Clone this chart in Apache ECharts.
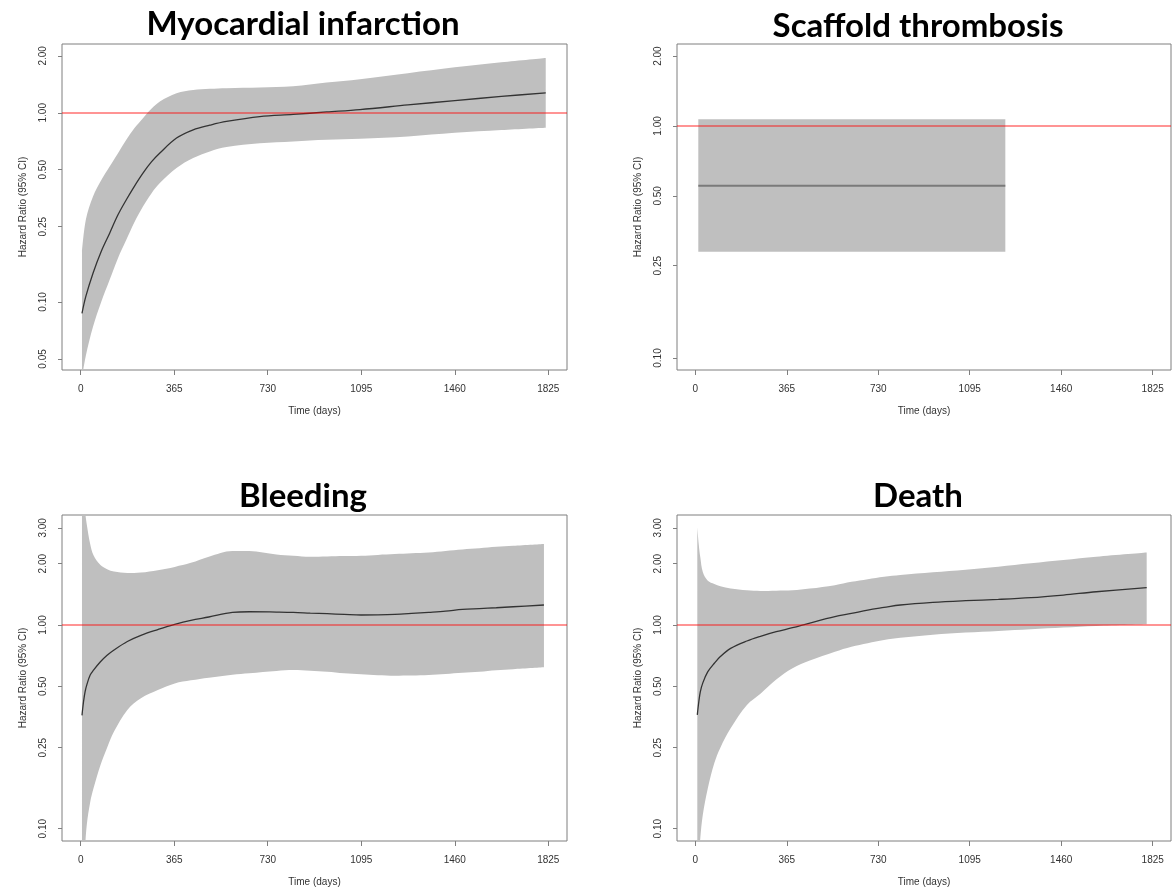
<!DOCTYPE html>
<html>
<head>
<meta charset="utf-8">
<script src="https://cdn.jsdelivr.net/npm/echarts@6/dist/echarts.min.js"></script>
<style>
  html, body { margin: 0; padding: 0; background: #fff; }
  #chart { width: 1173px; height: 892px; }
</style>
</head>
<body>
<div id="chart"></div>
<script>
// tick labels
const xTicks = [0, 365, 730, 1095, 1460, 1825];
const yTicksMI = [0.05, 0.1, 0.25, 0.5, 1, 2];
const yTicksST = [0.1, 0.25, 0.5, 1, 2];
const yTicksBD = [0.1, 0.25, 0.5, 1, 2, 3];

// Myocardial infarction
const miDays  = [5, 20, 48, 80, 113, 145, 178, 210, 243, 276, 309, 374, 439, 504, 569, 699, 829, 960, 1090, 1277, 1460, 1642, 1815];
const miEst   = [0.087, 0.107, 0.142, 0.185, 0.231, 0.288, 0.347, 0.41, 0.48, 0.55, 0.613, 0.735, 0.813, 0.86, 0.90, 0.955, 0.98, 1.01, 1.04, 1.10, 1.16, 1.22, 1.275];
const miLower = [0.040, 0.052, 0.074, 0.100, 0.131, 0.170, 0.213, 0.265, 0.320, 0.375, 0.425, 0.510, 0.576, 0.625, 0.659, 0.691, 0.706, 0.720, 0.729, 0.750, 0.784, 0.810, 0.833];
const miUpper = [0.185, 0.272, 0.361, 0.440, 0.520, 0.610, 0.720, 0.830, 0.937, 1.050, 1.148, 1.270, 1.320, 1.340, 1.350, 1.360, 1.380, 1.446, 1.506, 1.620, 1.740, 1.850, 1.950];

// Scaffold thrombosis
const stDays  = [12, 1237];
const stEst   = [0.552, 0.552];
const stLower = [0.287, 0.287];
const stUpper = [1.07, 1.07];

// Bleeding
const blDays  = [5, 11, 17, 24, 37, 50, 77, 103, 130, 182, 235, 301, 367, 430, 500, 592, 658, 764, 830, 896, 962, 1028, 1094, 1160, 1226, 1292, 1358, 1424, 1490, 1556, 1622, 1688, 1808];
const blEst   = [0.36, 0.42, 0.47, 0.51, 0.568, 0.60, 0.66, 0.71, 0.754, 0.83, 0.89, 0.95, 1.008, 1.055, 1.095, 1.154, 1.162, 1.158, 1.154, 1.145, 1.137, 1.128, 1.12, 1.122, 1.128, 1.14, 1.154, 1.17, 1.194, 1.205, 1.216, 1.23, 1.254];
const blUpper = [6.0, 4.2, 3.6, 3.1, 2.5, 2.2, 1.97, 1.88, 1.83, 1.80, 1.81, 1.86, 1.93, 2.02, 2.165, 2.31, 2.31, 2.22, 2.19, 2.165, 2.17, 2.18, 2.19, 2.21, 2.23, 2.25, 2.27, 2.31, 2.35, 2.38, 2.42, 2.45, 2.50];
const blLower = [0.03, 0.055, 0.08, 0.105, 0.135, 0.158, 0.205, 0.25, 0.30, 0.383, 0.437, 0.48, 0.517, 0.535, 0.551, 0.57, 0.58, 0.595, 0.601, 0.597, 0.59, 0.58, 0.573, 0.567, 0.564, 0.565, 0.568, 0.575, 0.583, 0.59, 0.60, 0.607, 0.62];

// Death
const dtDays  = [8, 14, 20, 30, 50, 76, 100, 141, 206, 260, 323, 388, 457, 557, 623, 688, 753, 818, 948, 1079, 1209, 1339, 1469, 1600, 1801];
const dtEst   = [0.362, 0.42, 0.47, 0.52, 0.59, 0.649, 0.70, 0.768, 0.835, 0.88, 0.927, 0.97, 1.023, 1.099, 1.14, 1.185, 1.22, 1.254, 1.292, 1.317, 1.336, 1.362, 1.404, 1.457, 1.525];
const dtUpper = [3.02, 2.47, 2.15, 1.82, 1.65, 1.59, 1.55, 1.51, 1.48, 1.47, 1.475, 1.48, 1.51, 1.57, 1.63, 1.68, 1.727, 1.76, 1.815, 1.87, 1.935, 2.01, 2.085, 2.165, 2.27];
const dtLower = [0.05, 0.07, 0.09, 0.117, 0.158, 0.21, 0.25, 0.311, 0.405, 0.46, 0.54, 0.613, 0.67, 0.74, 0.783, 0.815, 0.844, 0.865, 0.895, 0.918, 0.936, 0.954, 0.972, 0.99, 1.008];

const titles = ["Myocardial infarction", "Scaffold thrombosis", "Bleeding", "Death"];

// hazard ratio is plotted on a log10 scale
const lg = (v) => Math.log10(v);

const panels = [
  { days: miDays, est: miEst, lo: miLower, hi: miUpper, yMin: 0.0437, yMax: 2.31, ticks: yTicksMI, color: "#333", width: 1.3 },
  { days: stDays, est: stEst, lo: stLower, hi: stUpper, yMin: 0.0888, yMax: 2.255, ticks: yTicksST, color: "#7a7a7a", width: 2 },
  { days: blDays, est: blEst, lo: blLower, hi: blUpper, yMin: 0.087, yMax: 3.47, ticks: yTicksBD, color: "#333", width: 1.3 },
  { days: dtDays, est: dtEst, lo: dtLower, hi: dtUpper, yMin: 0.087, yMax: 3.47, ticks: yTicksBD, color: "#333", width: 1.3 },
];

const grids = [
  { left: 62, top: 44, width: 505, height: 326 },
  { left: 677, top: 44, width: 494, height: 326 },
  { left: 62, top: 515, width: 505, height: 326 },
  { left: 677, top: 515, width: 494, height: 326 },
];
const titlePos = [[303, 8], [918, 10], [303, 480], [918, 480]];

const axisFont = "'Liberation Sans', Arial, sans-serif";
const boxColor = "#7f7f7f";

const xAxis = [], yAxis = [], series = [];
panels.forEach((p, i) => {
  xAxis.push({
    gridIndex: i,
    type: "value",
    min: -73,
    max: 1898,
    name: "Time (days)",
    nameLocation: "middle",
    nameGap: 36,
    nameTextStyle: { fontFamily: axisFont, fontSize: 10, color: "#333" },
    axisLine: { show: false, onZero: false },
    axisTick: { show: true, length: 5, customValues: xTicks, lineStyle: { color: boxColor } },
    axisLabel: { customValues: xTicks, margin: 14, fontFamily: axisFont, fontSize: 10, color: "#333", formatter: (v) => String(v) },
    splitLine: { show: false },
  });
  yAxis.push({
    gridIndex: i,
    type: "value",
    min: lg(p.yMin),
    max: lg(p.yMax),
    name: "Hazard Ratio (95% CI)",
    nameLocation: "middle",
    nameGap: 34,
    nameTextStyle: { fontFamily: axisFont, fontSize: 10, color: "#333" },
    axisLine: { show: false, onZero: false },
    axisTick: { show: true, length: 4, customValues: p.ticks.map(lg), lineStyle: { color: boxColor } },
    axisLabel: {
      customValues: p.ticks.map(lg),
      rotate: 90,
      margin: 14,
      fontFamily: axisFont,
      fontSize: 10,
      color: "#333",
      formatter: (v) => Math.pow(10, v).toFixed(2),
    },
    splitLine: { show: false },
  });

  // data rows are [log HR, day]; putting the value first makes the stack run on y
  const common = {
    xAxisIndex: i, yAxisIndex: i, type: "line", symbol: "none", smooth: 0.35, silent: true,
    encode: { x: 1, y: 0 },
  };
  // lower bound (invisible base of the stacked band)
  series.push(Object.assign({}, common, {
    stack: "ci" + i,
    stackStrategy: "all",
    lineStyle: { width: 0, opacity: 0 },
    data: p.days.map((d, k) => [lg(p.lo[k]), d]),
  }));
  // CI band
  series.push(Object.assign({}, common, {
    stack: "ci" + i,
    stackStrategy: "all",
    lineStyle: { width: 0, opacity: 0 },
    areaStyle: { color: "#bfbfbf", opacity: 1 },
    data: p.days.map((d, k) => [lg(p.hi[k]) - lg(p.lo[k]), d]),
  }));
  // point estimate
  series.push(Object.assign({}, common, {
    z: 3,
    lineStyle: { color: p.color, width: p.width },
    data: p.days.map((d, k) => [lg(p.est[k]), d]),
    markLine: {
      silent: true,
      symbol: "none",
      label: { show: false },
      lineStyle: { color: "rgba(255,0,0,0.42)", width: 2, type: "solid" },
      data: [{ yAxis: 0 }],
    },
  }));
});

const option = {
  animation: false,
  backgroundColor: "#fff",
  title: titles.map((t, i) => ({
    text: t,
    left: titlePos[i][0],
    top: titlePos[i][1],
    textAlign: "center",
    padding: 0,
    textStyle: { fontFamily: "Lato, 'Open Sans', sans-serif", fontWeight: "bold", fontSize: 33, color: "#000" },
  })),
  grid: grids.map((g) => Object.assign({ show: true, borderColor: boxColor, borderWidth: 1, backgroundColor: "transparent" }, g)),
  xAxis: xAxis,
  yAxis: yAxis,
  series: series,
};

const chartObj = echarts.init(document.getElementById("chart"));
chartObj.setOption(option);
window.onresize = chartObj.resize;
</script>
</body>
</html>
